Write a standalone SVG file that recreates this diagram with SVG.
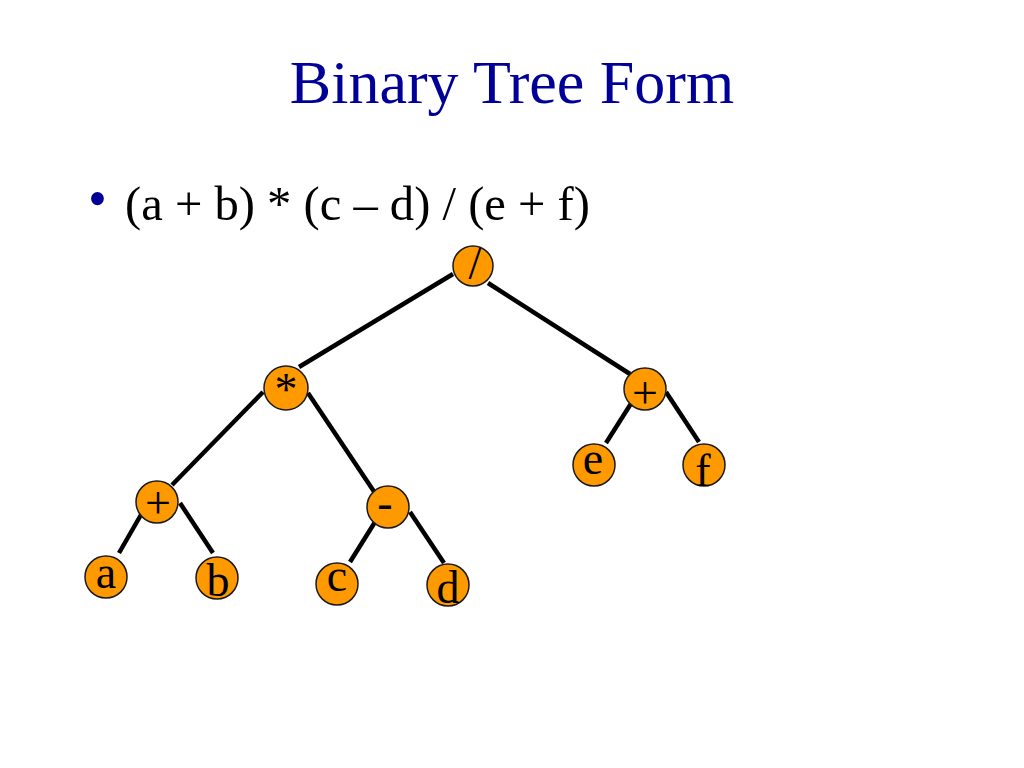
<svg xmlns="http://www.w3.org/2000/svg" width="1024" height="768" viewBox="0 0 1024 768">
<style>
.title{font-family:"Liberation Serif","Times New Roman",serif;font-size:62px;fill:#000099;text-anchor:middle}
.body{font-family:"Liberation Serif","Times New Roman",serif;font-size:48.6px;fill:#000000}
.bullet{font-family:"Liberation Serif","Times New Roman",serif;font-size:54px;fill:#000099}
.node circle{fill:#FF9900;stroke:#1a1a1a;stroke-width:1.5}
.node text{font-family:"Liberation Serif","Times New Roman",serif;font-size:46px;fill:#000000;text-anchor:middle}
.edges line{stroke:#000000;stroke-width:4.5;stroke-linecap:butt}
</style>
<rect width="1024" height="768" fill="#ffffff"/>
<text class="title" x="512" y="103">Binary Tree Form</text>
<text class="bullet" x="88" y="217">•</text>
<text class="body" x="125" y="220">(a + b) * (c – d) / (e + f)</text>
<g id="connectors" class="edges">
<line x1="453" y1="274" x2="299" y2="367"/>
<line x1="488" y1="283" x2="630" y2="374"/>
<line x1="263" y1="392" x2="172" y2="485"/>
<line x1="308" y1="393" x2="375" y2="493"/>
<line x1="142" y1="513" x2="119" y2="553"/>
<line x1="180" y1="503" x2="213" y2="553"/>
<line x1="375" y1="522" x2="350" y2="562"/>
<line x1="410" y1="512" x2="444" y2="563"/>
<line x1="632" y1="402" x2="606" y2="443"/>
<line x1="666" y1="392" x2="699" y2="442"/>
</g>
<g id="node-div" class="node"><circle cx="473" cy="266" r="20"/><text x="475" y="279">/</text></g>
<g id="node-mul" class="node"><circle cx="286" cy="388" r="22"/><text x="286" y="405">*</text></g>
<g id="node-plus-left" class="node"><circle cx="157" cy="502" r="21"/><text x="158" y="518">+</text></g>
<g id="node-a" class="node"><circle cx="106" cy="577" r="21"/><text x="106" y="588">a</text></g>
<g id="node-b" class="node"><circle cx="217" cy="578" r="21"/><text x="218" y="596">b</text></g>
<g id="node-minus" class="node"><circle cx="388" cy="507" r="21"/><text x="385" y="518">-</text></g>
<g id="node-c" class="node"><circle cx="337" cy="584" r="21"/><text x="337" y="591">c</text></g>
<g id="node-d" class="node"><circle cx="448" cy="585" r="21"/><text x="448" y="603">d</text></g>
<g id="node-plus-right" class="node"><circle cx="645" cy="389" r="21"/><text x="645" y="408">+</text></g>
<g id="node-e" class="node"><circle cx="594" cy="465" r="21"/><text x="593" y="474">e</text></g>
<g id="node-f" class="node"><circle cx="704" cy="465" r="21"/><text x="703" y="486">f</text></g>
</svg>
